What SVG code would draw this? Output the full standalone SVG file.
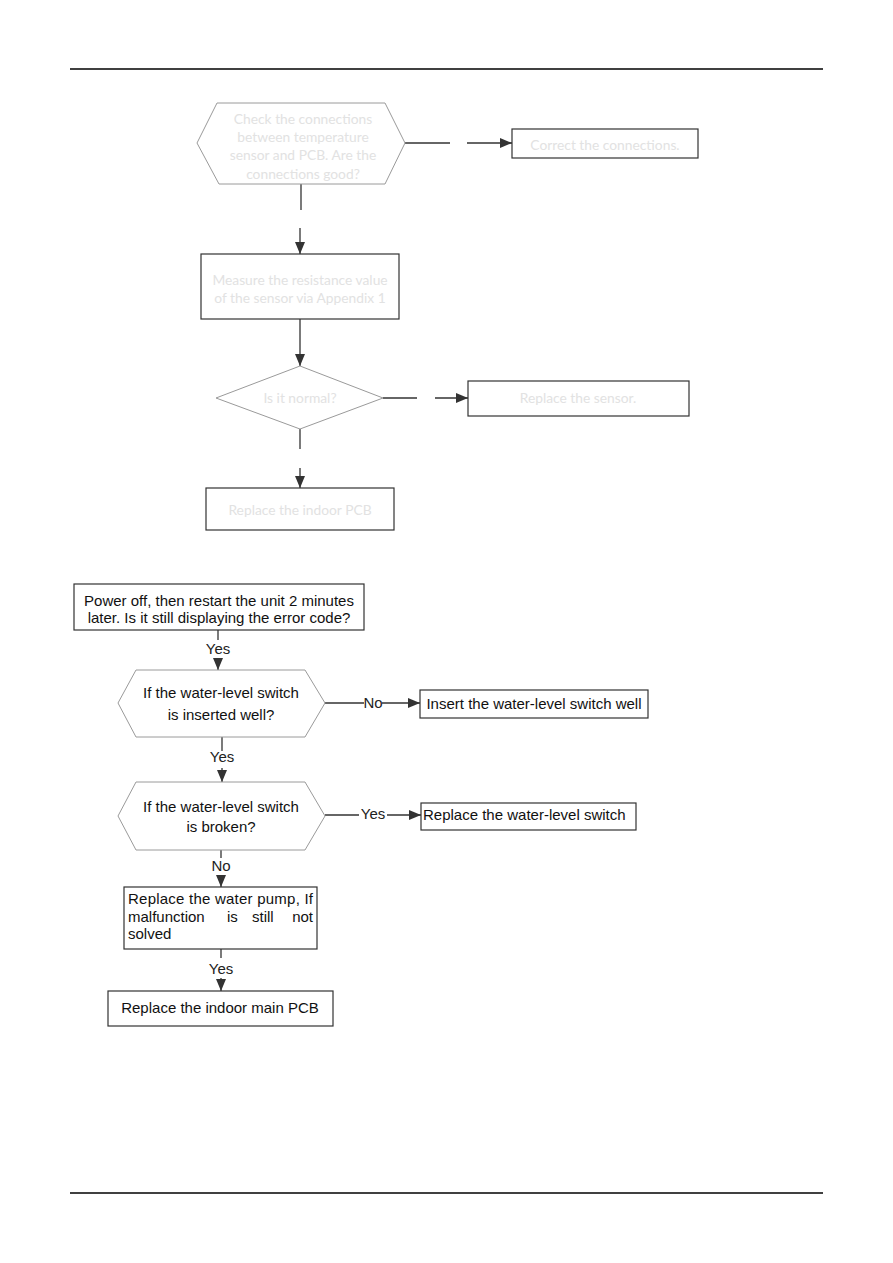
<svg xmlns="http://www.w3.org/2000/svg" width="893" height="1263" viewBox="0 0 893 1263">
<style>
.bg{fill:#ffffff}
.rule{stroke:#000;stroke-width:1.3}
.shape{fill:#fff;stroke:#9a9a9a;stroke-width:1}
.box{fill:#fff;stroke:#333;stroke-width:1.2}
.conn{stroke:#333;stroke-width:1.3;fill:none}
.arr{stroke:#333;stroke-width:1.3;fill:none;marker-end:url(#ah)}
.ft{font-family:"Lato","Liberation Sans",sans-serif;font-size:13.8px;fill:#e2e2e2;text-anchor:middle}
.t{font-family:"Liberation Sans",Arial,sans-serif;font-size:15px;fill:#111;text-anchor:middle}
.tl{font-family:"Liberation Sans",Arial,sans-serif;font-size:15px;fill:#111}
.lbl{font-family:"Liberation Sans",Arial,sans-serif;font-size:15px;fill:#222;text-anchor:middle}
</style>
<defs>
<marker id="ah" markerUnits="userSpaceOnUse" markerWidth="12" markerHeight="10" refX="12" refY="5" orient="auto">
<path d="M0,0 L12,5 L0,10 Z" fill="#333"/>
</marker>
</defs>
<rect class="bg" x="0" y="0" width="893" height="1263"/>
<line class="rule" x1="70" y1="69" x2="823" y2="69"/>
<line class="rule" x1="70" y1="1193" x2="823" y2="1193"/>

<g id="connectors">
<line class="conn" x1="405" y1="143" x2="450" y2="143"/>
<line class="arr" x1="467" y1="143" x2="512" y2="143"/>
<line class="conn" x1="301" y1="184" x2="301" y2="210"/>
<line class="arr" x1="300" y1="228" x2="300" y2="254"/>
<line class="arr" x1="300" y1="319" x2="300" y2="366"/>
<line class="conn" x1="383" y1="398" x2="417" y2="398"/>
<line class="arr" x1="435" y1="398" x2="468" y2="398"/>
<line class="conn" x1="300" y1="429" x2="300" y2="449"/>
<line class="arr" x1="300" y1="468" x2="300" y2="488"/>

<line class="conn" x1="218" y1="630" x2="218" y2="640"/>
<text class="lbl" x="218" y="654">Yes</text>
<line class="arr" x1="218" y1="658" x2="218" y2="670"/>
<line class="conn" x1="325" y1="703" x2="364" y2="703"/>
<text class="lbl" x="373" y="708">No</text>
<line class="arr" x1="382" y1="703" x2="420" y2="703"/>
<line class="conn" x1="222" y1="737" x2="222" y2="751"/>
<text class="lbl" x="222" y="762">Yes</text>
<line class="arr" x1="222" y1="768" x2="222" y2="782"/>
<line class="conn" x1="325" y1="815" x2="359" y2="815"/>
<text class="lbl" x="373" y="819">Yes</text>
<line class="arr" x1="387" y1="815" x2="421" y2="815"/>
<line class="conn" x1="221" y1="850" x2="221" y2="858"/>
<text class="lbl" x="221" y="871">No</text>
<line class="arr" x1="221" y1="875" x2="221" y2="887"/>
<line class="conn" x1="221" y1="949" x2="221" y2="958"/>
<text class="lbl" x="221" y="974">Yes</text>
<line class="arr" x1="221" y1="978" x2="221" y2="991"/>
</g>

<g id="n1">
<polygon class="shape" points="197,143 217,103 385,103 405,143 385,184 219,184"/>
<text class="ft" x="303" y="124">Check the connections</text>
<text class="ft" x="303" y="142">between temperature</text>
<text class="ft" x="303" y="160">sensor and PCB. Are the</text>
<text class="ft" x="303" y="179">connections good?</text>
</g>
<g id="n2">
<rect class="box" x="512" y="129" width="186" height="29"/>
<text class="ft" x="605" y="150">Correct the connections.</text>
</g>
<g id="n3">
<rect class="box" x="201" y="254" width="198" height="65"/>
<text class="ft" x="300" y="285">Measure the resistance value</text>
<text class="ft" x="300" y="303">of the sensor via Appendix 1</text>
</g>
<g id="n4">
<polygon class="shape" points="216,398 300,366 383,398 300,429"/>
<text class="ft" x="300" y="403">Is it normal?</text>
</g>
<g id="n5">
<rect class="box" x="468" y="381" width="221" height="35"/>
<text class="ft" x="578" y="403">Replace the sensor.</text>
</g>
<g id="n6">
<rect class="box" x="206" y="488" width="188" height="42"/>
<text class="ft" x="300" y="515">Replace the indoor PCB</text>
</g>

<g id="b1">
<rect class="box" x="74" y="584" width="290" height="46"/>
<text class="t" x="219" y="606">Power off, then restart the unit 2 minutes</text>
<text class="t" x="219" y="623">later. Is it still displaying the error code?</text>
</g>
<g id="b2">
<polygon class="shape" points="118,703 136,670 305,670 325,703 305,737 136,737"/>
<text class="t" x="221" y="698">If the water-level switch</text>
<text class="t" x="221" y="720">is inserted well?</text>
</g>
<g id="b3">
<rect class="box" x="420" y="690" width="228" height="28"/>
<text class="t" x="534" y="709">Insert the water-level switch well</text>
</g>
<g id="b4">
<polygon class="shape" points="118,816 136,782 305,782 325,816 305,850 136,850"/>
<text class="t" x="221" y="812">If the water-level switch</text>
<text class="t" x="221" y="832">is broken?</text>
</g>
<g id="b5">
<rect class="box" x="421" y="803" width="215" height="27"/>
<text class="tl" x="423" y="820">Replace the water-level switch</text>
</g>
<g id="b6">
<rect class="box" x="124" y="887" width="193" height="62"/>
<text class="tl" x="128" y="904" textLength="185" lengthAdjust="spacing">Replace the water pump, If</text>
<text class="tl" x="128" y="922">malfunction</text>
<text class="tl" x="227" y="922">is</text>
<text class="tl" x="252" y="922">still</text>
<text class="tl" x="313" y="922" text-anchor="end">not</text>
<text class="tl" x="128" y="939">solved</text>
</g>
<g id="b7">
<rect class="box" x="108" y="991" width="225" height="35"/>
<text class="t" x="220" y="1013">Replace the indoor main PCB</text>
</g>
</svg>
